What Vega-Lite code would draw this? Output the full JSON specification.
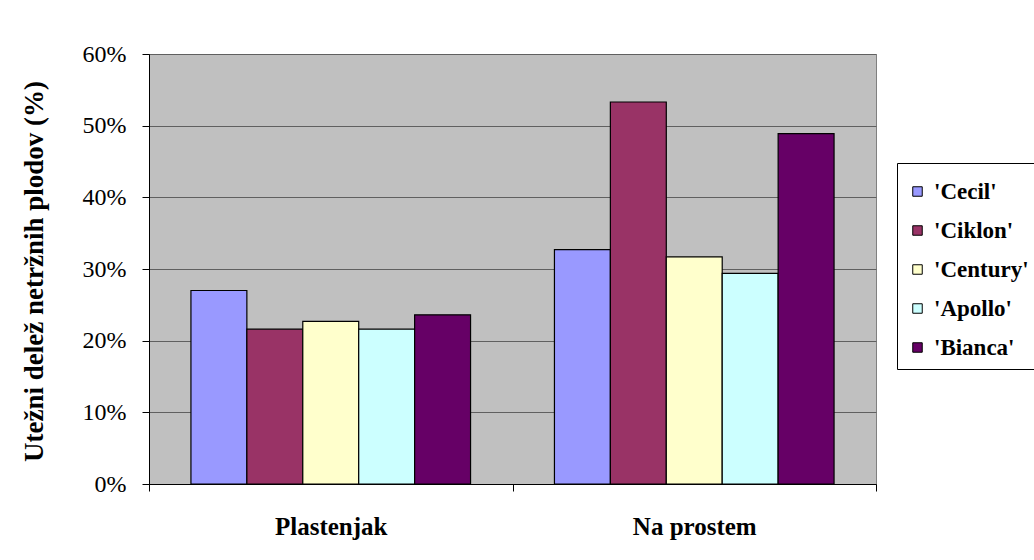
{
  "$schema": "https://vega.github.io/schema/vega-lite/v6.json",
  "width": 727,
  "height": 430,
  "autosize": "none",
  "padding": {"left": 149, "top": 54, "right": 158, "bottom": 76},
  "background": "white",
  "data": {
    "values": [
      {"mjesto": "Plastenjak", "sorta": "'Cecil'", "delez": 0.270},
      {"mjesto": "Plastenjak", "sorta": "'Ciklon'", "delez": 0.216},
      {"mjesto": "Plastenjak", "sorta": "'Century'", "delez": 0.227},
      {"mjesto": "Plastenjak", "sorta": "'Apollo'", "delez": 0.216},
      {"mjesto": "Plastenjak", "sorta": "'Bianca'", "delez": 0.236},
      {"mjesto": "Na prostem", "sorta": "'Cecil'", "delez": 0.327},
      {"mjesto": "Na prostem", "sorta": "'Ciklon'", "delez": 0.533},
      {"mjesto": "Na prostem", "sorta": "'Century'", "delez": 0.317},
      {"mjesto": "Na prostem", "sorta": "'Apollo'", "delez": 0.294},
      {"mjesto": "Na prostem", "sorta": "'Bianca'", "delez": 0.489}
    ]
  },
  "mark": {"type": "bar", "stroke": "black", "strokeWidth": 1.2},
  "encoding": {
    "x": {
      "field": "mjesto",
      "type": "nominal",
      "sort": ["Plastenjak", "Na prostem"],
      "scale": {"paddingInner": 0, "paddingOuter": 0},
      "axis": {
        "title": null,
        "labelAngle": 0,
        "labelFont": "Liberation Serif",
        "labelFontSize": 25,
        "labelFontWeight": "bold",
        "labelColor": "black",
        "labelPadding": 23,
        "domainColor": "black",
        "tickColor": "black",
        "tickSize": 7,
        "tickBand": "extent"
      }
    },
    "xOffset": {
      "field": "sorta",
      "type": "nominal",
      "sort": ["'Cecil'", "'Ciklon'", "'Century'", "'Apollo'", "'Bianca'"],
      "scale": {"paddingInner": 0, "paddingOuter": 0.75}
    },
    "y": {
      "field": "delez",
      "type": "quantitative",
      "scale": {"domain": [0, 0.6], "nice": false},
      "axis": {
        "title": "Utežni delež netržnih plodov (%)",
        "values": [0, 0.1, 0.2, 0.3, 0.4, 0.5, 0.6],
        "format": ".0%",
        "grid": true,
        "gridColor": "#606060",
        "gridWidth": 1,
        "domainColor": "black",
        "tickColor": "black",
        "tickSize": 7,
        "labelFont": "Liberation Serif",
        "labelFontSize": 24,
        "labelColor": "black",
        "labelPadding": 16,
        "titleFont": "Liberation Serif",
        "titleFontSize": 27,
        "titleFontWeight": "bold",
        "titleColor": "black",
        "titleAngle": -90,
        "titleX": -115,
        "titleY": 217,
        "titleAlign": "center",
        "titleBaseline": "middle"
      }
    },
    "color": {
      "field": "sorta",
      "type": "nominal",
      "scale": {
        "domain": ["'Cecil'", "'Ciklon'", "'Century'", "'Apollo'", "'Bianca'"],
        "range": ["#9999FF", "#993366", "#FFFFCC", "#CCFFFF", "#660066"]
      },
      "legend": {
        "title": " ",
        "titleFontSize": 1,
        "titlePadding": 7,
        "orient": "none",
        "legendX": 748,
        "legendY": 109,
        "strokeColor": "black",
        "fillColor": "white",
        "padding": 9,
        "symbolType": "square",
        "symbolSize": 90,
        "symbolStrokeColor": "black",
        "symbolStrokeWidth": 1,
        "labelFont": "Liberation Serif",
        "labelFontSize": 23,
        "labelFontWeight": "bold",
        "labelColor": "black",
        "labelOffset": 5,
        "rowPadding": 15
      }
    }
  },
  "config": {
    "font": "Liberation Serif",
    "view": {"fill": "#C0C0C0", "stroke": "#808080"}
  }
}
